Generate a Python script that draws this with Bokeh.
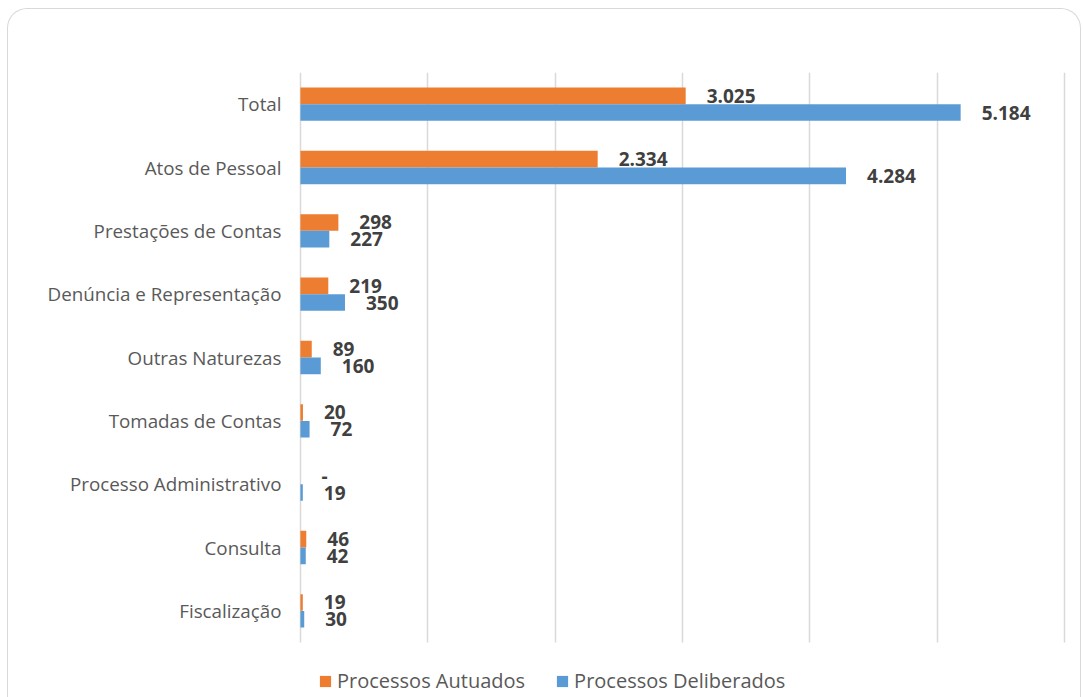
from bokeh.plotting import figure
from bokeh.models import (Range1d, FixedTicker, ColumnDataSource,
                          Legend, LegendItem, InlineStyleSheet)
from bokeh.core.properties import value
from bokeh.embed import file_html
from bokeh.resources import INLINE

categories = ["Total", "Atos de Pessoal", "Prestações de Contas",
              "Denúncia e Representação", "Outras Naturezas", "Tomadas de Contas",
              "Processo Administrativo", "Consulta", "Fiscalização"]
autuados = [3025, 2334, 298, 219, 89, 20, 0, 46, 19]
deliberados = [5184, 4284, 227, 350, 160, 72, 19, 42, 30]
series_names = ["Processos Autuados", "Processos Deliberados"]
x_ticks = [0, 1000, 2000, 3000, 4000, 5000, 6000]

ORANGE = "#ED7D31"
BLUE = "#5B9BD5"
GRID = "#d9d9d9"
FONT = "Open Sans"

N = len(categories)
OFF = 0.132
H = 0.263


def fmt(v):
    return "-" if v == 0 else f"{v:,}".replace(",", ".")


ypos = [N - 0.5 - i for i in range(N)]
source = ColumnDataSource(dict(
    cat=categories,
    y_aut=[y + OFF for y in ypos],
    y_dlb=[y - OFF for y in ypos],
    aut=autuados,
    dlb=deliberados,
    aut_lbl=[fmt(v) for v in autuados],
    dlb_lbl=[fmt(v) for v in deliberados],
))

# frame: x 298..1066 px, y 72..697 px ; categories occupy 72..642
p = figure(width=1083, height=697,
           y_range=Range1d(-0.868, N),
           x_range=Range1d(-15, 6015),
           output_backend="svg", toolbar_location=None,
           min_border_left=298, min_border_right=17,
           min_border_top=72, min_border_bottom=0)
p.outline_line_color = None

# vertical grid lines limited to the category area
grid = p.xgrid[0]
if "cross_bounds" in grid.properties():
    grid.ticker = FixedTicker(ticks=x_ticks)
    grid.grid_line_color = GRID
    grid.grid_line_width = 1.5
    grid.cross_bounds = (0, N)
else:
    grid.grid_line_color = None
    gsrc = ColumnDataSource(dict(x=x_ticks, y0=[0] * len(x_ticks),
                                 y1=[N] * len(x_ticks)))
    p.segment(x0="x", y0="y0", x1="x", y1="y1", source=gsrc,
              line_color=GRID, line_width=1.5, level="underlay")
p.ygrid.grid_line_color = None

r1 = p.hbar(y="y_aut", right="aut", left=0, height=H, fill_color=ORANGE,
            line_color=None, source=source)
r2 = p.hbar(y="y_dlb", right="dlb", left=0, height=H, fill_color=BLUE,
            line_color=None, source=source)

for col, ycol, lbl in (("aut", "y_aut", "aut_lbl"), ("dlb", "y_dlb", "dlb_lbl")):
    p.text(x=col, y=ycol, text=lbl, source=source,
           x_offset=21, text_baseline="middle", text_align="left",
           text_font=value(FONT), text_font_style="bold",
           text_font_size="19px", text_color="#404040")

p.xaxis.visible = False

p.yaxis.ticker = FixedTicker(ticks=ypos)
p.yaxis.major_label_overrides = {y: c for y, c in zip(ypos, categories)}
p.yaxis.axis_line_color = None
p.yaxis.major_tick_line_color = None
p.yaxis.minor_tick_line_color = None
p.yaxis.major_label_standoff = 11
p.yaxis.major_label_text_font = FONT
p.yaxis.major_label_text_font_size = "18.8px"
p.yaxis.major_label_text_color = "#595959"

legend = Legend(items=[LegendItem(label=series_names[0], renderers=[r1]),
                       LegendItem(label=series_names[1], renderers=[r2])],
                orientation="horizontal", location=(20, 3),
                padding=0, margin=0, spacing=30, label_standoff=5,
                glyph_width=14, glyph_height=14,
                border_line_color=None, background_fill_alpha=0,
                label_text_font=FONT, label_text_font_size="20px",
                label_text_color="#595959")
p.add_layout(legend)

frame_css = InlineStyleSheet(css="""
:host { position: relative; }
:host::after {
  content: "";
  position: absolute;
  left: 7px; top: 8px;
  width: 1074px; height: 689px;
  box-sizing: border-box;
  border: 1.5px solid #d9d9d9;
  border-bottom: none;
  border-radius: 20px 20px 0 0;
  pointer-events: none;
  z-index: 10;
}
""")
p.stylesheets = [frame_css]

open("out.html", "w").write(file_html(p, INLINE))
